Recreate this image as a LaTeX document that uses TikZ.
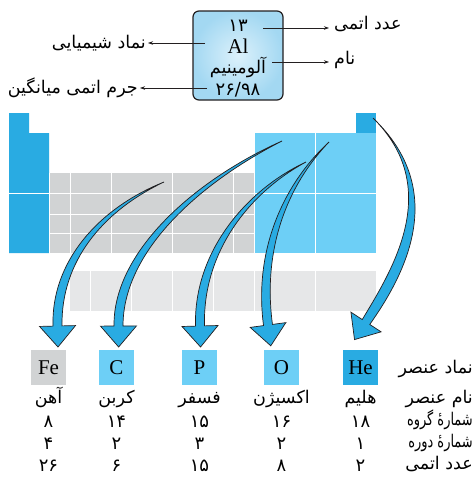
\documentclass[tikz,border=0pt]{standalone}
\usepackage{fontspec}
\setmainfont{Liberation Serif}
\newfontfamily\fa[Script=Arabic]{DejaVu Sans}
\newfontfamily\facond[Script=Arabic,FakeStretch=0.74]{DejaVu Sans}
\TeXXeTstate=1
\usetikzlibrary{calc,arrows.meta}
\definecolor{cblue}{HTML}{29ABE2}
\definecolor{clblue}{HTML}{6DCFF6}
\definecolor{cgray}{HTML}{D1D3D4}
\definecolor{clgray}{HTML}{E6E7E8}
\definecolor{cline}{HTML}{231F20}
\definecolor{boxin}{HTML}{DCF1FB}
\definecolor{boxout}{HTML}{A3D8F2}
\newcommand\fatarr[7]{%
 \coordinate (#5s) at #1; \coordinate (#5c1) at #2; \coordinate (#5c2) at #3; \coordinate (#5e) at #4;
 \filldraw[fill=cblue, draw=cline, line width=0.7pt]
  (#5s) .. controls ($(#5c1)!#6!90:(#5c2)$) and ($(#5c2)!#7!90:(#5e)$) .. ($(#5e)!4.5pt!-90:(#5c2)$)
  -- ($(#5e)!18pt!-90:(#5c2)$) -- ($(#5e)!-21pt!(#5c2)$) -- ($(#5e)!18pt!90:(#5c2)$) -- ($(#5e)!4.5pt!90:(#5c2)$)
  .. controls ($(#5c2)!#7!-90:(#5e)$) and ($(#5c1)!#6!-90:(#5c2)$) .. (#5s) -- cycle;
}
\begin{document}
\begin{tikzpicture}[x=1pt,y=-1pt,
  wl/.style={white, line width=0.9pt},
  thin arrow/.style={draw=cline, line width=0.6pt, -{Stealth[length=5pt,width=3.5pt]}},
  fatxt/.style={font=\fa\fontsize{17.5}{20}\selectfont, inner sep=0pt},
  facnd/.style={font=\facond\fontsize{17.5}{20}\selectfont, inner sep=0pt},
  fanum/.style={font=\fa\fontsize{18}{20}\selectfont, inner sep=0pt},
  lat/.style={font=\fontsize{21}{24}\selectfont, inner sep=0pt},
  elbox/.style={minimum width=35pt, minimum height=35pt, inner sep=0pt, font=\fontsize{21}{24}\selectfont}]
\useasboundingbox (0,0) rectangle (473,477);
% ---- periodic table ----
\fill[cblue] (9,113) -- (29,113) -- (29,133) -- (49,133) -- (49,253) -- (9,253) -- cycle;
\draw[wl] (9,193) -- (49,193);
\fill[cgray] (49,173) rectangle (254,253);
\foreach \x in {49,70,111,172,233,254} \draw[wl] (\x,173) -- (\x,253);
\foreach \y in {193,214,233} \draw[wl] (49,\y) -- (254,\y);
\fill[clblue] (254,133) rectangle (376,253);
\draw[wl] (315,133) -- (315,253);
\draw[wl] (254,193) -- (376,193);
\draw[wl] (254,133) -- (254,253);
\fill[cblue] (356,113) rectangle (376,133);
\fill[clgray] (70,271) rectangle (376,311);
\foreach \x in {90,131,172,213,254,315} \draw[wl] (\x,271) -- (\x,311);
% ---- top element box ----
\path[draw=cline, line width=1.2pt, rounded corners=6pt, inner color=boxin, outer color=boxout]
  (193,11) rectangle (283,100);
\coordinate (box) at (238,55.5);
\node[fanum, anchor=base] (num) at (238,31) {۱۳};
\node[lat, anchor=base] (sym) at (238,53) {Al};
\node[fatxt, anchor=base] (nm) at (238,73) {\beginR آلومینیم\endR};
\node[fanum, anchor=base] (mass) at (238,95) {۲۶/۹۸};
\coordinate (pnum) at (263,28);
\coordinate (psym) at (205,43);
\coordinate (pnm) at (272,62);
\coordinate (pmass) at (207,88);
\node[fatxt, anchor=base west] (lnum) at (334,29) {\beginR عدد اتمی\endR};
\node[fatxt, anchor=base west] (lnm) at (334,64) {\beginR نام\endR};
\node[fatxt, anchor=base east] (lsym) at (146,48) {\beginR نماد شیمیایی\endR};
\node[fatxt, anchor=base east] (lmass) at (138,93) {\beginR جرم اتمی میانگین\endR};
\draw[thin arrow] (pnum) -- ($(pnum -| lnum.west)+(-5,0)$);
\draw[thin arrow] (pnm) -- ($(pnm -| lnm.west)+(-5,0)$);
\draw[thin arrow] (psym) -- ($(psym -| lsym.east)+(2,0)$);
\draw[thin arrow] (pmass) -- ($(pmass -| lmass.east)+(2,0)$);
% ---- curved arrows ----
\fatarr{(164,182)}{(100,210)}{(56,262)}{(57.5,326)}{aa}{2.5pt}{5pt}
\fatarr{(282,141)}{(200,180)}{(118,250)}{(118.5,326)}{ab}{2.5pt}{5pt}
\fatarr{(306,162)}{(250,190)}{(198,250)}{(200,326)}{ac}{2pt}{4.5pt}
\fatarr{(329,142)}{(285,185)}{(258,250)}{(268,325)}{ad}{2pt}{4.5pt}
\fatarr{(373,118)}{(447,190)}{(398,273)}{(366,322)}{ae}{4pt}{6.5pt}
% ---- element boxes ----
\node[elbox, fill=cgray] (fe) at (48.5,367.5) {Fe};
\node[elbox, fill=clblue] (c) at (116.5,367.5) {C};
\node[elbox, fill=clblue] (p) at (199.5,367.5) {P};
\node[elbox, fill=clblue] (o) at (281.5,367.5) {O};
\node[elbox, fill=cblue] (he) at (360.5,367.5) {He};
\node[fatxt, anchor=base east] (rsym) at (473,373) {\beginR نماد عنصر\endR};
\node[fatxt, anchor=base east] (rname) at (473,403) {\beginR نام عنصر\endR};
\node[facnd, anchor=base east] (rgroup) at (473,425) {\beginR شمارهٔ گروه\endR};
\node[facnd, anchor=base east] (rper) at (473,447) {\beginR شمارهٔ دوره\endR};
\node[fatxt, anchor=base east] (ratom) at (473,469) {\beginR عدد اتمی\endR};
\foreach \n/\x/\nm/\g/\pp/\z in {fe/48.5/آهن/۸/۴/۲۶, c/116.5/کربن/۱۴/۲/۶, p/199.5/فسفر/۱۵/۳/۱۵, o/281.5/اکسیژن/۱۶/۲/۸, he/360.5/هلیم/۱۸/۱/۲}{
  \node[fatxt, anchor=base] (\n-name) at (\x,403) {\beginR \nm\endR};
  \node[fanum, anchor=base] (\n-g) at (\x,427) {\g};
  \node[fanum, anchor=base] (\n-p) at (\x,449) {\pp};
  \node[fanum, anchor=base] (\n-z) at (\x,471) {\z};
}
\end{tikzpicture}
\end{document}
